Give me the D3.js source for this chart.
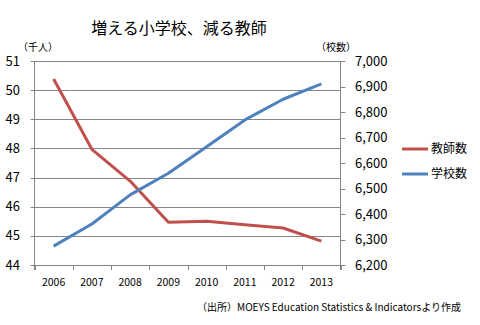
<!DOCTYPE html>
<html><head><meta charset="utf-8">
<script src="https://cdn.jsdelivr.net/npm/d3@7"></script>
<style>body{margin:0;background:#fff}svg{display:block}text{font-family:"Noto Sans CJK JP","Noto Sans",sans-serif;fill:#000}</style>
</head><body>
<svg id="c" width="480" height="325"></svg>
<script>
const years = ["2006","2007","2008","2009","2010","2011","2012","2013"];
const teachers = [50.38, 47.97, 46.88, 45.47, 45.5, 45.38, 45.27, 44.82];
const schools = [6274, 6361, 6475, 6560, 6664, 6769, 6850, 6910];
const leftTicks = [44,45,46,47,48,49,50,51];
const rightTicks = [6200,6300,6400,6500,6600,6700,6800,6900,7000];
const seriesNames = ["教師数","学校数"];
const colors = ["#C0504D","#4F81BD"];

const svg = d3.select("#c");
const L = 34.5, R = 340.5, T = 61, B = 265;
const x = d3.scaleBand().domain(years).range([L, R]);
const yL = d3.scaleLinear().domain([44,51]).range([B, T]);
const yR = d3.scaleLinear().domain([6200,7000]).range([B, T]);
const grid = "#868686";

// gridlines
svg.append("g").selectAll("line").data(leftTicks).join("line")
  .attr("x1", L-4).attr("x2", R).attr("y1", d=>Math.round(yL(d))+0.5).attr("y2", d=>Math.round(yL(d))+0.5)
  .attr("stroke", grid).attr("stroke-width",1);
svg.append("line").attr("x1",L).attr("x2",L).attr("y1",T).attr("y2",B+5).attr("stroke",grid);
svg.append("line").attr("x1",R).attr("x2",R).attr("y1",T).attr("y2",B+5).attr("stroke",grid);
svg.append("g").selectAll("line").data(rightTicks).join("line")
  .attr("x1",R).attr("x2",R+5).attr("y1",d=>Math.round(yR(d))+0.5).attr("y2",d=>Math.round(yR(d))+0.5).attr("stroke",grid);
const edges = years.map(d=>x(d)).concat([R]);
svg.append("g").selectAll("line").data(edges).join("line")
  .attr("x1",d=>Math.round(d)+0.5).attr("x2",d=>Math.round(d)+0.5).attr("y1",B).attr("y2",B+5).attr("stroke",grid);

// labels
svg.append("g").selectAll("text").data(leftTicks).join("text")
  .attr("x",20).attr("y",d=>yL(d)).attr("dy","0.35em").attr("text-anchor","end")
  .attr("font-size",13).text(d=>d);
svg.append("g").selectAll("text").data(rightTicks).join("text")
  .attr("x",355).attr("y",d=>yR(d)).attr("dy","0.35em")
  .attr("font-size",13).text(d=>d3.format(",")(d));
svg.append("g").selectAll("text").data(years).join("text")
  .attr("x",d=>x(d)+x.bandwidth()/2).attr("y",282).attr("dy","0.35em").attr("text-anchor","middle")
  .attr("font-size",10.5).text(d=>d);

// lines
const lineL = d3.line().x((d,i)=>x(years[i])+x.bandwidth()/2).y(d=>yL(d));
const lineR = d3.line().x((d,i)=>x(years[i])+x.bandwidth()/2).y(d=>yR(d));
svg.append("path").attr("d",lineL(teachers)).attr("fill","none").attr("stroke",colors[0]).attr("stroke-width",3).attr("stroke-linejoin","round");
svg.append("path").attr("d",lineR(schools)).attr("fill","none").attr("stroke",colors[1]).attr("stroke-width",3).attr("stroke-linejoin","round");

// legend
seriesNames.forEach((n,i)=>{
  const yy = 149 + i*25;
  svg.append("line").attr("x1",402).attr("x2",428).attr("y1",yy).attr("y2",yy).attr("stroke",colors[i]).attr("stroke-width",3);
  svg.append("text").attr("x",431).attr("y",yy).attr("dy","0.35em").attr("font-size",12).text(n);
});

// titles
svg.append("text").attr("x",179).attr("y",28).attr("dy","0.35em").attr("text-anchor","middle").attr("font-size",16).text("増える小学校、減る教師");
svg.append("text").attr("x",38).attr("y",47).attr("dy","0.35em").attr("text-anchor","middle").attr("font-size",10).text("（千人）");
svg.append("text").attr("x",336).attr("y",47).attr("dy","0.35em").attr("text-anchor","middle").attr("font-size",10).text("（校数）");
svg.append("text").attr("x",461).attr("y",307).attr("dy","0.35em").attr("text-anchor","end").attr("font-size",10).text("（出所）MOEYS Education Statistics & Indicatorsより作成");
</script>
</body></html>
